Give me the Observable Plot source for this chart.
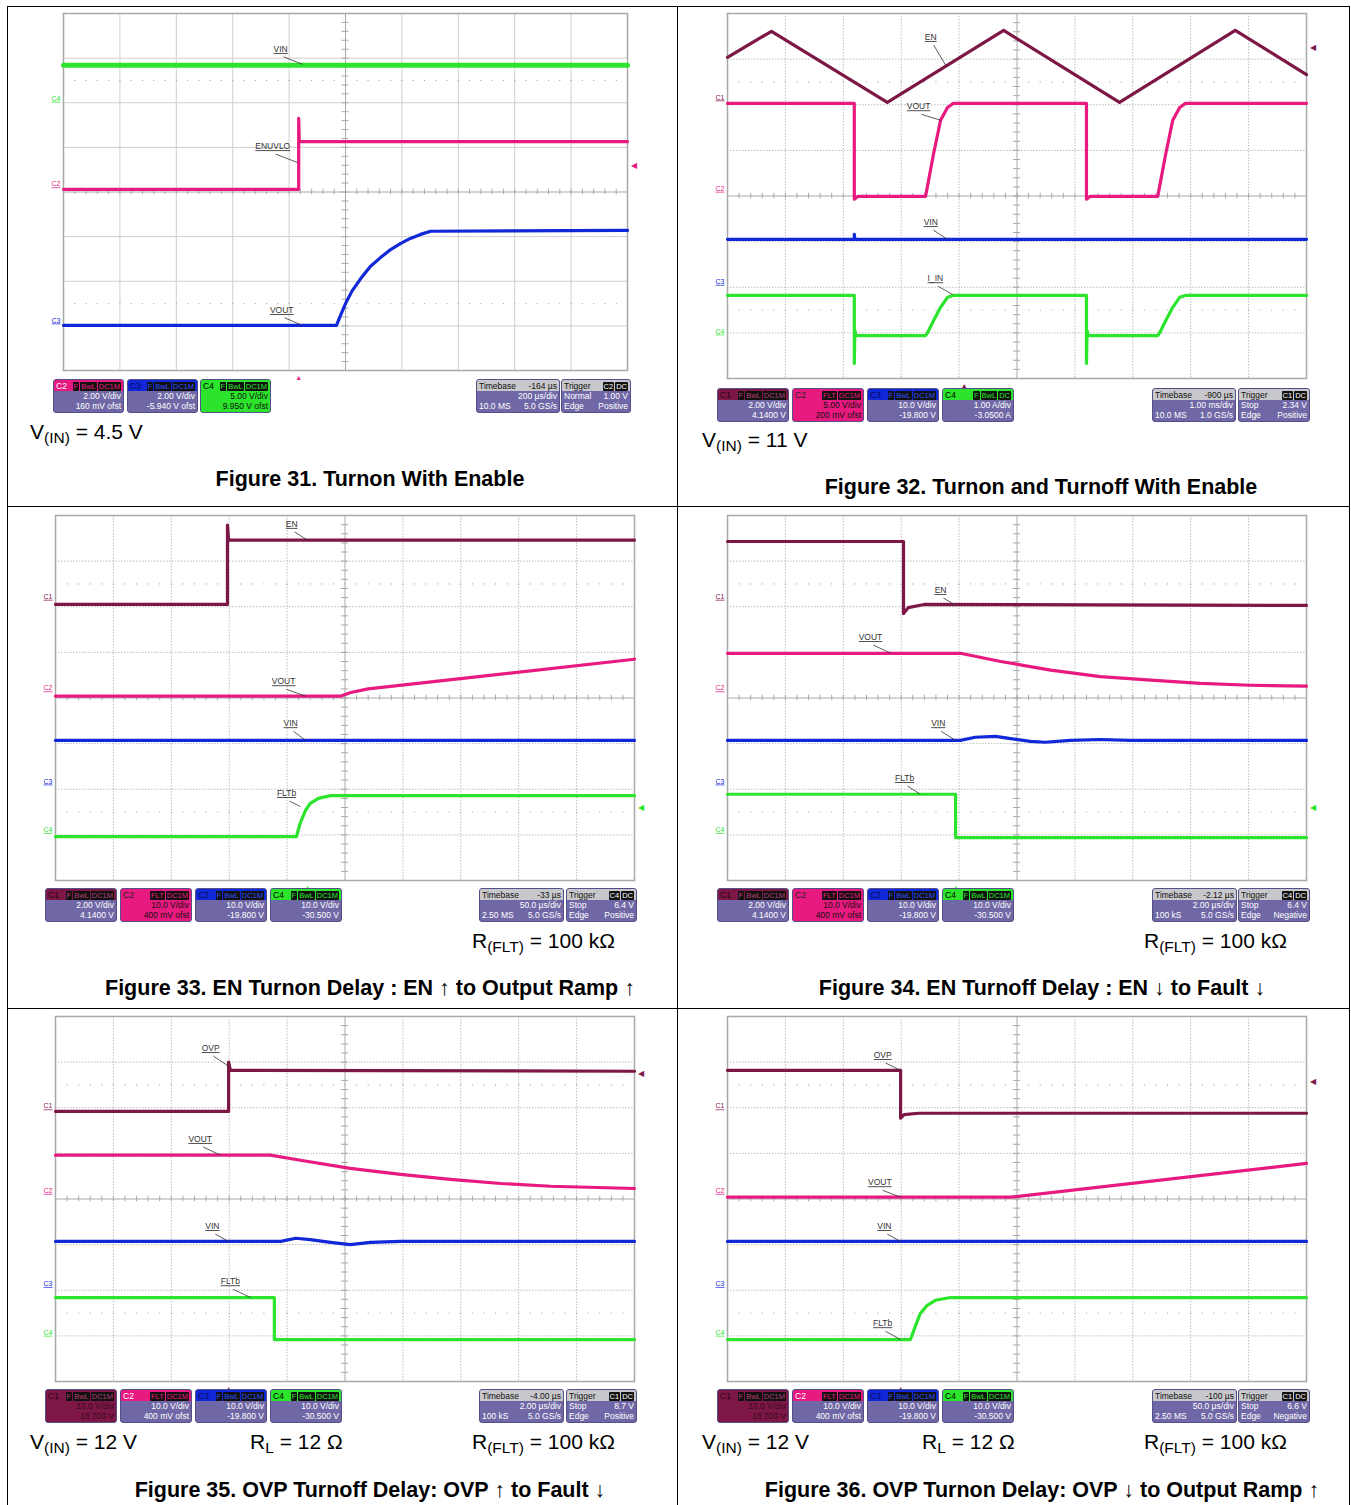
<!DOCTYPE html>
<html><head><meta charset="utf-8">
<script src="https://cdn.jsdelivr.net/npm/d3@7"></script>
<script src="https://cdn.jsdelivr.net/npm/@observablehq/plot@0.6"></script>
<style>
body{margin:0;background:#fff;font-family:Arial,"Liberation Sans",sans-serif;}
#page{position:relative;width:1351px;height:1505px;overflow:hidden;background:#fff;}
.hl{position:absolute;background:#000;height:1px;}
.vl{position:absolute;background:#000;width:1px;}
.title{position:absolute;font-weight:bold;font-size:21.5px;white-space:nowrap;transform:translateX(-50%);line-height:24px;}
.cond{position:absolute;font-size:21px;white-space:nowrap;line-height:24px;}
.cond sub{font-size:15.5px;vertical-align:-4px;line-height:0;}
.box{position:absolute;height:34px;border-radius:3px;border:1px solid #54508a;box-sizing:border-box;font-size:8.5px;overflow:hidden;line-height:10px;}
.hdr{height:11px;display:flex;justify-content:space-between;align-items:center;padding:0 2px;}
.row{display:flex;justify-content:space-between;padding:0 2px;height:10px;}
.tag{background:#111;padding:0 1px;margin-left:1px;font-size:7.5px;line-height:9px;border-radius:1px;}
.plot{position:absolute;}
</style></head><body><div id="page"></div>
<script>
// ---------- colours per channel ----------
const CH = {C1:"#7d1746", C2:"#e8197f", C3:"#1028d8", C4:"#2be42b"};
const TAGCOL = {C1:"#b8407a", C2:"#e8197f", C3:"#3050ff", C4:"#2be42b"};

// ---------- Figure 31 (x: divisions 0-10, y: divisions 0-8) ----------
const f31_VIN = [[0,6.84],[10,6.84]];
const f31_ENUVLO = [[0,4.06],[4.17,4.06],[4.17,5.65],[4.18,5.13],[10,5.13]];
const f31_VOUT = [[0,1.01],[4.84,1.01],[4.91,1.23],[5.0,1.5],[5.12,1.79],[5.27,2.06],[5.44,2.33],[5.62,2.53],[5.8,2.71],[5.98,2.85],[6.15,2.96],[6.33,3.05],[6.51,3.12],[10,3.14]];
const f31_labels = [{text:"VIN",x:3.85,y:7.2,x2:4.24,y2:6.86},{text:"ENUVLO",x:3.71,y:5.02,x2:4.15,y2:4.66},{text:"VOUT",x:3.87,y:1.35,x2:4.2,y2:1.03}];
const f31_refs = [{ch:"C4",y:6.05},{ch:"C2",y:4.13},{ch:"C3",y:1.08}];
const f31_trig = {ch:"C2", level:4.6, time:4.17};
const f31_chan = [
  {ch:"C2",tags:["F","BwL","DC1M"],scale:"2.00 V/div",ofs:"160 mV ofst",full:false},
  {ch:"C3",tags:["F","BwL","DC1M"],scale:"2.00 V/div",ofs:"-5.940 V ofst",full:false},
  {ch:"C4",tags:["F","BwL","DC1M"],scale:"5.00 V/div",ofs:"9.950 V ofst",full:true}];
const f31_tb = {delay:"-164 µs",scale:"200 µs/div",samples:"10.0 MS",rate:"5.0 GS/s"};
const f31_tr = {src:"C2",cpl:"DC",mode:"Normal",level:"1.00 V",type:"Edge",slope:"Positive"};

// ---------- Figure 32 ----------
const f32_EN = [[0,7.04],[0.76,7.61],[2.76,6.05],[4.77,7.63],[6.77,6.05],[8.77,7.63],[10,6.66]];
const f32_VOUT = [[0,6.03],[2.19,6.03],[2.19,3.93],[2.25,3.99],[3.42,3.99],[3.45,4.19],[3.56,4.93],[3.68,5.66],[3.80,5.94],[3.90,6.03],[6.2,6.03],[6.2,3.93],[6.26,3.99],[7.43,3.99],[7.46,4.19],[7.57,4.93],[7.69,5.66],[7.81,5.94],[7.91,6.03],[10,6.03]];
const f32_VIN = [[0,3.05],[2.19,3.05],[2.19,3.16],[2.2,3.05],[10,3.05]];
const f32_IIN = [[0,1.82],[2.19,1.82],[2.19,0.33],[2.2,1.05],[2.22,0.94],[3.42,0.94],[3.45,0.99],[3.56,1.27],[3.68,1.56],[3.80,1.78],[3.90,1.82],[6.2,1.82],[6.2,0.33],[6.21,1.05],[6.23,0.94],[7.43,0.94],[7.46,0.99],[7.57,1.27],[7.69,1.56],[7.81,1.78],[7.91,1.82],[10,1.82]];
const f32_labels = [{text:"EN",x:3.51,y:7.48,x2:3.77,y2:6.86},{text:"VOUT",x:3.30,y:5.96,x2:3.68,y2:5.66},{text:"VIN",x:3.51,y:3.42,x2:3.80,y2:3.05},{text:"I_IN",x:3.59,y:2.19,x2:3.89,y2:1.84}];
const f32_refs = [{ch:"C1",y:6.12},{ch:"C2",y:4.12},{ch:"C3",y:2.08},{ch:"C4",y:0.99}];
const f32_trig = {ch:"C1", level:7.26, time:4.09};
const f32_chan = [
  {ch:"C1",tags:["F","BwL","DC1M"],scale:"2.00 V/div",ofs:"4.1400 V",full:false},
  {ch:"C2",tags:["FLT","DC1M"],scale:"5.00 V/div",ofs:"200 mV ofst",full:true},
  {ch:"C3",tags:["F","BwL","DC1M"],scale:"10.0 V/div",ofs:"-19.800 V",full:false},
  {ch:"C4",tags:["F","BwL","DC"],scale:"1.00 A/div",ofs:"-3.0500 A",full:false}];
const f32_tb = {delay:"-900 µs",scale:"1.00 ms/div",samples:"10.0 MS",rate:"1.0 GS/s"};
const f32_tr = {src:"C1",cpl:"DC",mode:"Stop",level:"2.34 V",type:"Edge",slope:"Positive"};

// ---------- Figure 33 ----------
const f33_EN = [[0,6.05],[2.97,6.05],[2.97,7.79],[2.99,7.46],[10,7.46]];
const f33_VOUT = [[0,4.04],[4.92,4.04],[5.1,4.12],[5.4,4.2],[10,4.85]];
const f33_VIN = [[0,3.07],[10,3.07]];
const f33_FLTb = [[0,0.96],[4.16,0.96],[4.23,1.27],[4.32,1.54],[4.40,1.69],[4.54,1.80],[4.75,1.86],[10,1.86]];
const f33_labels = [{text:"EN",x:4.08,y:7.81,x2:4.35,y2:7.46},{text:"VOUT",x:3.94,y:4.36,x2:4.32,y2:4.04},{text:"VIN",x:4.06,y:3.44,x2:4.32,y2:3.07},{text:"FLTb",x:3.99,y:1.91,x2:4.23,y2:1.62}];
const f33_refs = [{ch:"C1",y:6.18},{ch:"C2",y:4.17},{ch:"C3",y:2.13},{ch:"C4",y:1.07}];
const f33_trig = {ch:"C4", level:1.6, time:4.35};
const chan_std = [
  {ch:"C1",tags:["F","BwL","DC1M"],scale:"2.00 V/div",ofs:"4.1400 V",full:false},
  {ch:"C2",tags:["FLT","DC1M"],scale:"10.0 V/div",ofs:"400 mV ofst",full:true},
  {ch:"C3",tags:["F","BwL","DC1M"],scale:"10.0 V/div",ofs:"-19.800 V",full:false},
  {ch:"C4",tags:["F","BwL","DC1M"],scale:"10.0 V/div",ofs:"-30.500 V",full:false}];
const f33_tb = {delay:"-33 µs",scale:"50.0 µs/div",samples:"2.50 MS",rate:"5.0 GS/s"};
const f33_tr = {src:"C4",cpl:"DC",mode:"Stop",level:"6.4 V",type:"Edge",slope:"Positive"};

// ---------- Figure 34 ----------
const f34_EN = [[0,7.43],[3.04,7.43],[3.04,5.85],[3.12,5.98],[3.4,6.05],[10,6.03]];
const f34_VOUT = [[0,4.98],[4.02,4.98],[4.72,4.80],[5.58,4.61],[6.44,4.47],[7.31,4.39],[8.17,4.32],[9.03,4.28],[10,4.26]];
const f34_VIN = [[0,3.07],[4.02,3.07],[4.28,3.14],[4.63,3.16],[4.89,3.11],[5.23,3.05],[5.49,3.03],[5.92,3.07],[6.44,3.09],[6.95,3.07],[10,3.07]];
const f34_FLTb = [[0,1.89],[3.94,1.89],[3.94,0.94],[10,0.94]];
const f34_labels = [{text:"EN",x:3.68,y:6.36,x2:3.94,y2:6.03},{text:"VOUT",x:2.47,y:5.33,x2:2.82,y2:4.98},{text:"VIN",x:3.64,y:3.44,x2:3.94,y2:3.07},{text:"FLTb",x:3.06,y:2.24,x2:3.33,y2:1.89}];
const f34_refs = f33_refs;
const f34_trig = {ch:"C4", level:1.6, time:3.94};
const f34_tb = {delay:"-2.12 µs",scale:"2.00 µs/div",samples:"100 kS",rate:"5.0 GS/s"};
const f34_tr = {src:"C4",cpl:"DC",mode:"Stop",level:"6.4 V",type:"Edge",slope:"Negative"};

// ---------- Figure 35 ----------
const f35_OVP = [[0,5.92],[2.99,5.92],[2.99,7.0],[3.02,6.82],[10,6.8]];
const f35_VOUT = [[0,4.96],[3.71,4.96],[4.23,4.85],[5.09,4.67],[5.96,4.54],[6.82,4.43],[7.69,4.34],[8.55,4.28],[10,4.23]];
const f35_VIN = [[0,3.07],[3.89,3.07],[4.15,3.14],[4.40,3.11],[4.75,3.05],[5.09,3.0],[5.44,3.05],[5.96,3.07],[10,3.07]];
const f35_FLTb = [[0,1.84],[3.78,1.84],[3.78,0.92],[10,0.92]];
const f35_labels = [{text:"OVP",x:2.68,y:7.30,x2:2.99,y2:6.91},{text:"VOUT",x:2.50,y:5.31,x2:2.85,y2:4.96},{text:"VIN",x:2.71,y:3.40,x2:2.99,y2:3.07},{text:"FLTb",x:3.02,y:2.19,x2:3.37,y2:1.84}];
const f35_refs = [{ch:"C1",y:5.99},{ch:"C2",y:4.14},{ch:"C3",y:2.10},{ch:"C4",y:1.03}];
const f35_trig = {ch:"C1", level:6.75, time:2.99};
const chan_ovp = [
  {ch:"C1",tags:["F","BwL","DC1M"],scale:"10.0 V/div",ofs:"18.700 V",full:true},
  {ch:"C2",tags:["FLT","DC1M"],scale:"10.0 V/div",ofs:"400 mV ofst",full:false},
  {ch:"C3",tags:["F","BwL","DC1M"],scale:"10.0 V/div",ofs:"-19.800 V",full:false},
  {ch:"C4",tags:["F","BwL","DC1M"],scale:"10.0 V/div",ofs:"-30.500 V",full:false}];
const f35_tb = {delay:"-4.00 µs",scale:"2.00 µs/div",samples:"100 kS",rate:"5.0 GS/s"};
const f35_tr = {src:"C1",cpl:"DC",mode:"Stop",level:"8.7 V",type:"Edge",slope:"Positive"};

// ---------- Figure 36 ----------
const f36_OVP = [[0,6.82],[2.99,6.82],[2.99,5.77],[3.05,5.85],[3.3,5.88],[10,5.88]];
const f36_VOUT = [[0,4.04],[4.89,4.04],[10,4.78]];
const f36_VIN = [[0,3.07],[10,3.07]];
const f36_FLTb = [[0,0.92],[3.16,0.92],[3.25,1.23],[3.33,1.49],[3.45,1.67],[3.59,1.78],[3.85,1.84],[10,1.84]];
const f36_labels = [{text:"OVP",x:2.68,y:7.15,x2:2.99,y2:6.82},{text:"VOUT",x:2.63,y:4.36,x2:2.99,y2:4.04},{text:"VIN",x:2.71,y:3.40,x2:2.99,y2:3.07},{text:"FLTb",x:2.68,y:1.27,x2:2.99,y2:0.92}];
const f36_refs = f35_refs;
const f36_trig = {ch:"C1", level:6.58, time:2.99};
const f36_tb = {delay:"-100 µs",scale:"50.0 µs/div",samples:"2.50 MS",rate:"5.0 GS/s"};
const f36_tr = {src:"C1",cpl:"DC",mode:"Stop",level:"6.6 V",type:"Edge",slope:"Negative"};

// ---------- page layout ----------
const page = document.getElementById("page");
function el(tag, cls, style, html){const e=document.createElement(tag); if(cls) e.className=cls; Object.assign(e.style, style||{}); if(html!=null) e.innerHTML=html; page.appendChild(e); return e;}

// table lines
el("div","hl",{left:"7px",top:"6px",width:"1343px"});
el("div","hl",{left:"7px",top:"506px",width:"1343px"});
el("div","hl",{left:"7px",top:"1008px",width:"1343px"});
el("div","vl",{left:"7px",top:"6px",height:"1499px"});
el("div","vl",{left:"677px",top:"6px",height:"1499px"});
el("div","vl",{left:"1349px",top:"6px",height:"1499px"});

const ML=24, MR=12, MT=4, MB=12;
function scope(g, traces, labels, refs, trig, solid){
  const dash = solid ? null : "1.5,1.5";
  const gridC = solid ? "#cfcfcf" : "#bdbdbd";
  const marks = [
    Plot.ruleX(d3.range(1,10).filter(d=>d!==5), {stroke:gridC, strokeDasharray:dash}),
    Plot.ruleY(d3.range(1,8).filter(d=>d!==4), {stroke:gridC, strokeDasharray:dash}),
    Plot.dot(d3.range(0.2,10,0.2).flatMap(x=>[{x,y:1.5},{x,y:6.5}]), {x:"x", y:"y", r:0.6, fill:"#a0a0a0", stroke:null}),
    Plot.ruleX([5], {stroke:"#a8a8a8"}),
    Plot.ruleY([4], {stroke:"#a8a8a8"}),
    Plot.ruleY(d3.range(0.2,8,0.2), {y:d=>d, x1:4.94, x2:5.06, stroke:"#a8a8a8"}),
    Plot.ruleX(d3.range(0.2,10,0.2), {x:d=>d, y1:3.94, y2:4.06, stroke:"#a8a8a8"}),
    Plot.frame({stroke:"#a8a8a8", strokeWidth:1.5})
  ];
  for (const t of traces) marks.push(Plot.line(t.data, {x:d=>d[0], y:d=>d[1], stroke:CH[t.ch], strokeWidth:t.w||3.2, curve:"linear"}));
  marks.push(Plot.link(labels, {x1:d=>d.x+0.05, y1:d=>d.y-0.17, x2:"x2", y2:"y2", stroke:"#333", strokeWidth:0.8}));
  marks.push(Plot.text(labels, {x:"x", y:"y", text:"text", fontSize:8.5, fill:"#333"}));
  for (const r of refs) marks.push(Plot.text([r], {x:()=>0, y:"y", text:"ch", dx:-3, dy:-2, textAnchor:"end", fill:CH[r.ch], fontSize:7}));
  marks.push(Plot.text([trig], {x:()=>10, y:"level", text:()=>"◀", dx:6, fill:CH[trig.ch], fontSize:8}));
  marks.push(Plot.text([trig], {x:"time", y:()=>0, text:()=>"▲", dy:7, fill:CH[trig.ch], fontSize:7}));
  const svg = Plot.plot({
    width:g.w+ML+MR, height:g.h+MT+MB,
    marginLeft:ML, marginRight:MR, marginTop:MT, marginBottom:MB,
    x:{domain:[0,10], axis:null}, y:{domain:[0,8], axis:null},
    style:{background:"transparent", fontFamily:"Arial, sans-serif", overflow:"visible"},
    marks
  });
  d3.select(svg).selectAll("text").each(function(){
    const s=this.textContent; if(s!=="◀" && s!=="▲") d3.select(this).style("text-decoration","underline");
  });
  svg.classList.add("plot");
  svg.style.position="absolute"; svg.style.left=(g.x-ML)+"px"; svg.style.top=(g.y-MT)+"px";
  page.appendChild(svg);
}

const LABELDARK = {C1:"#2a0514", C2:"#fff", C3:"#0a0a60", C4:"#000"};
function chanBox(x, y, w, c){
  const col=CH[c.ch];
  const bodyBg = c.full ? col : "#7068a6";
  const bodyTxt = c.full ? (c.ch==="C1" ? "#3a0a22" : "#111") : "#fff";
  const lab = c.full && c.ch==="C2" ? "#222" : LABELDARK[c.ch];
  const tags = c.tags.map(t=>`<span class="tag" style="color:${TAGCOL[c.ch]}">${t}</span>`).join("");
  el("div","box",{left:x+"px",top:y+"px",width:w+"px",background:bodyBg,color:bodyTxt},
    `<div class="hdr" style="background:${col}"><span style="color:${lab}">${c.ch}</span><span>${tags}</span></div>`+
    `<div class="row"><span></span><span>${c.scale}</span></div><div class="row"><span></span><span>${c.ofs}</span></div>`);
}
function tbBox(x,y,w,t){
  el("div","box",{left:x+"px",top:y+"px",width:w+"px",background:"#7068a6",color:"#fff"},
    `<div class="hdr" style="background:#c8c8cc;color:#111"><span>Timebase</span><span>${t.delay}</span></div>`+
    `<div class="row"><span></span><span>${t.scale}</span></div><div class="row"><span>${t.samples}</span><span>${t.rate}</span></div>`);
}
function trBox(x,y,w,t){
  el("div","box",{left:x+"px",top:y+"px",width:w+"px",background:"#7068a6",color:"#fff"},
    `<div class="hdr" style="background:#c8c8cc;color:#111"><span>Trigger</span><span><span class="tag" style="color:#fff">${t.src}</span><span class="tag" style="color:#fff">${t.cpl}</span></span></div>`+
    `<div class="row"><span>${t.mode}</span><span>${t.level}</span></div><div class="row"><span>${t.type}</span><span>${t.slope}</span></div>`);
}
function boxes(y, chanX, w, chans, tbX, tbW, tb, trX, trW, tr){
  chans.forEach((c,i)=>chanBox(chanX[i], y, w, c));
  tbBox(tbX, y, tbW, tb); trBox(trX, y, trW, tr);
}
function cond(x,y,html){ el("div","cond",{left:x+"px",top:(y-12)+"px"},html); }
function title(cx,cy,txt){ el("div","title",{left:cx+"px",top:(cy-12)+"px"},txt); }

// Figure 31
scope({x:63,y:13,w:564,h:357},[{ch:"C4",data:f31_VIN,w:5},{ch:"C2",data:f31_ENUVLO},{ch:"C3",data:f31_VOUT}],f31_labels,f31_refs,f31_trig,true);
boxes(379,[53,127,200],71,f31_chan,476,84,f31_tb,561,70,f31_tr);
cond(30,432,"V<sub>(IN)</sub> = 4.5 V");
title(370,479,"Figure 31. Turnon With Enable");

// Figure 32
scope({x:727,y:13,w:579,h:365},[{ch:"C1",data:f32_EN},{ch:"C2",data:f32_VOUT},{ch:"C3",data:f32_VIN},{ch:"C4",data:f32_IIN}],f32_labels,f32_refs,f32_trig,false);
boxes(388,[717,792,867,942],72,f32_chan,1152,84,f32_tb,1238,72,f32_tr);
cond(702,440,"V<sub>(IN)</sub> = 11 V");
title(1041,487,"Figure 32. Turnon and Turnoff With Enable");

// Figure 33
scope({x:55,y:515,w:579,h:365},[{ch:"C1",data:f33_EN},{ch:"C2",data:f33_VOUT},{ch:"C3",data:f33_VIN},{ch:"C4",data:f33_FLTb}],f33_labels,f33_refs,f33_trig,false);
boxes(888,[45,120,195,270],72,chan_std,479,85,f33_tb,566,71,f33_tr);
cond(472,941,"R<sub>(FLT)</sub> = 100 kΩ");
title(370,988,"Figure 33. EN Turnon Delay : EN ↑ to Output Ramp ↑");

// Figure 34
scope({x:727,y:515,w:579,h:365},[{ch:"C1",data:f34_EN},{ch:"C2",data:f34_VOUT},{ch:"C3",data:f34_VIN},{ch:"C4",data:f34_FLTb}],f34_labels,f34_refs,f34_trig,false);
boxes(888,[717,792,867,942],72,chan_std,1152,85,f34_tb,1238,72,f34_tr);
cond(1144,941,"R<sub>(FLT)</sub> = 100 kΩ");
title(1042,988,"Figure 34. EN Turnoff Delay : EN ↓ to Fault ↓");

// Figure 35
scope({x:55,y:1016,w:579,h:365},[{ch:"C1",data:f35_OVP},{ch:"C2",data:f35_VOUT},{ch:"C3",data:f35_VIN},{ch:"C4",data:f35_FLTb}],f35_labels,f35_refs,f35_trig,false);
boxes(1389,[45,120,195,270],72,chan_ovp,479,85,f35_tb,566,71,f35_tr);
cond(30,1442,"V<sub>(IN)</sub> = 12 V");
cond(250,1442,"R<sub>L</sub> = 12 Ω");
cond(472,1442,"R<sub>(FLT)</sub> = 100 kΩ");
title(370,1490,"Figure 35. OVP Turnoff Delay: OVP ↑ to Fault ↓");

// Figure 36
scope({x:727,y:1016,w:579,h:365},[{ch:"C1",data:f36_OVP},{ch:"C2",data:f36_VOUT},{ch:"C3",data:f36_VIN},{ch:"C4",data:f36_FLTb}],f36_labels,f36_refs,f36_trig,false);
boxes(1389,[717,792,867,942],72,chan_ovp,1152,85,f36_tb,1238,72,f36_tr);
cond(702,1442,"V<sub>(IN)</sub> = 12 V");
cond(922,1442,"R<sub>L</sub> = 12 Ω");
cond(1144,1442,"R<sub>(FLT)</sub> = 100 kΩ");
title(1042,1490,"Figure 36. OVP Turnon Delay: OVP ↓ to Output Ramp ↑");
</script></body></html>
